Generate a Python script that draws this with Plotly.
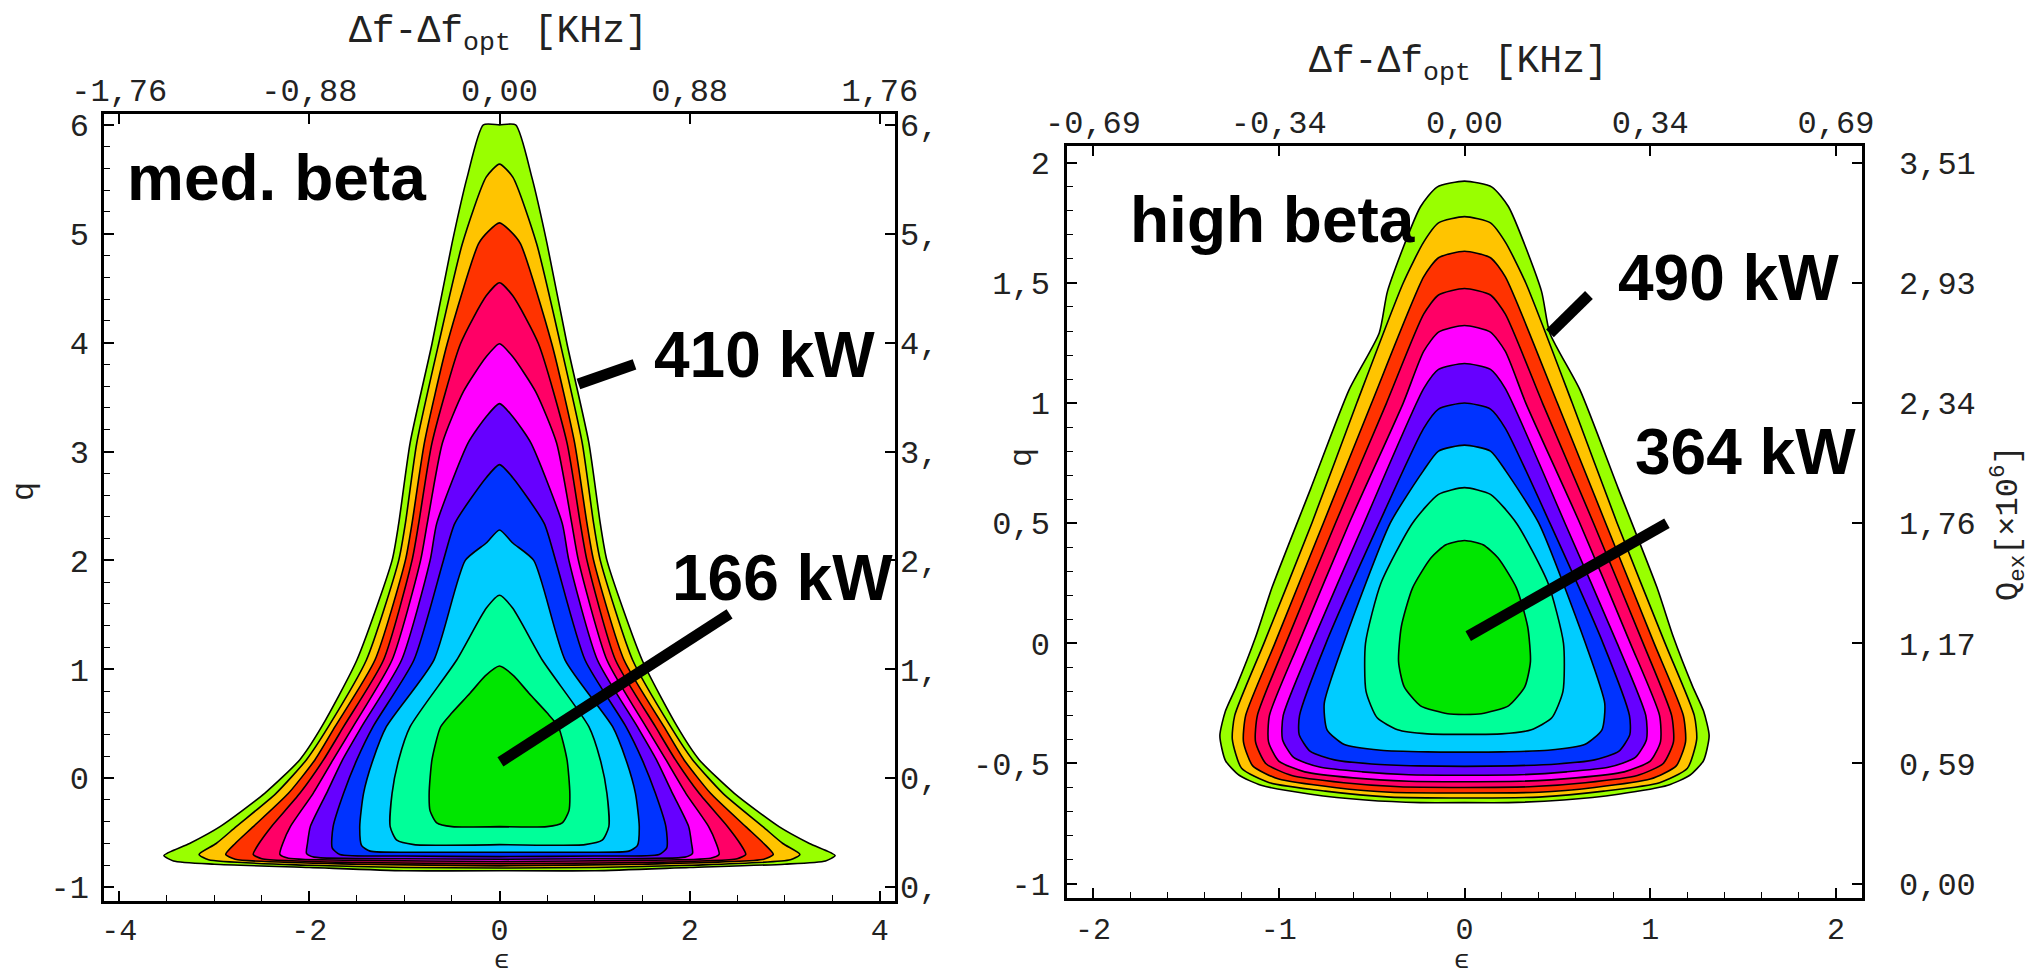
import plotly.graph_objects as go

W, H = 2040, 978

# ---------------- data ----------------
band_colors = ["#99ff00", "#ffc400", "#ff3300", "#ff0066", "#ff00ff",
               "#6600ff", "#0033ff", "#00ccff", "#00ff99", "#00e600"]

# medium beta: right half (eps >= 0) of each contour line, outer -> inner
med_eps = [
    [0, 0.17, 0.34, 0.50, 0.71, 0.94, 1.06, 1.13, 1.50, 1.87, 2.10, 2.47, 2.94, 3.26, 3.53, 3.43, 3.00, 2.00, 1.00, 0],
    [0, 0.14, 0.39, 0.64, 0.87, 0.99, 1.06, 1.40, 1.80, 2.03, 2.35, 2.77, 2.98, 3.16, 3.06, 2.00, 1.00, 0],
    [0, 0.12, 0.22, 0.55, 0.79, 0.92, 0.99, 1.31, 1.73, 1.94, 2.22, 2.59, 2.78, 2.88, 2.78, 1.50, 0],
    [0, 0.14, 0.41, 0.71, 0.85, 0.92, 1.22, 1.64, 1.85, 2.10, 2.40, 2.53, 2.59, 2.50, 1.50, 0],
    [0, 0.14, 0.38, 0.60, 0.76, 0.83, 1.13, 1.54, 1.75, 1.96, 2.20, 2.28, 2.31, 2.22, 1.50, 0],
    [0, 0.14, 0.33, 0.66, 0.73, 1.03, 1.45, 1.65, 1.82, 1.99, 2.02, 2.03, 1.95, 1.00, 0],
    [0, 0.14, 0.47, 0.59, 0.90, 1.33, 1.50, 1.64, 1.75, 1.76, 1.68, 1.00, 0],
    [0, 0.14, 0.36, 0.69, 1.19, 1.33, 1.43, 1.47, 1.45, 1.36, 0.80, 0],
    [0, 0.14, 0.45, 0.94, 1.06, 1.13, 1.15, 1.08, 0.90, 0],
    [0, 0.15, 0.31, 0.50, 0.62, 0.71, 0.74, 0.73, 0.66, 0.50, 0],
]
med_q = [
    [6.0, 6.0, 5.52, 4.91, 3.99, 3.08, 2.34, 2.00, 1.085, 0.473, 0.17, -0.139, -0.445, -0.60, -0.71, -0.76, -0.79, -0.82, -0.85, -0.85],
    [5.64, 5.52, 4.91, 3.99, 3.08, 2.34, 2.00, 1.085, 0.473, 0.17, -0.139, -0.445, -0.60, -0.70, -0.75, -0.80, -0.82, -0.825],
    [5.10, 5.02, 4.91, 3.99, 3.08, 2.34, 2.00, 1.085, 0.473, 0.17, -0.139, -0.445, -0.60, -0.70, -0.745, -0.79, -0.805],
    [4.55, 4.43, 3.99, 3.08, 2.34, 2.00, 1.085, 0.473, 0.17, -0.139, -0.445, -0.60, -0.70, -0.74, -0.775, -0.785],
    [3.99, 3.87, 3.55, 3.08, 2.34, 2.00, 1.085, 0.473, 0.17, -0.139, -0.445, -0.60, -0.70, -0.735, -0.755, -0.765],
    [3.44, 3.32, 3.08, 2.34, 2.00, 1.085, 0.473, 0.17, -0.139, -0.445, -0.60, -0.69, -0.725, -0.74, -0.745],
    [2.88, 2.76, 2.34, 2.00, 1.085, 0.473, 0.17, -0.139, -0.445, -0.64, -0.70, -0.715, -0.72],
    [2.28, 2.16, 2.00, 1.085, 0.473, 0.17, -0.139, -0.445, -0.62, -0.67, -0.68, -0.68],
    [1.68, 1.56, 1.085, 0.473, 0.17, -0.139, -0.445, -0.57, -0.61, -0.61],
    [1.03, 0.94, 0.78, 0.60, 0.47, 0.17, -0.14, -0.30, -0.41, -0.445, -0.445],
]

# high beta: right half of each contour line, outer -> inner
high_eps = [
    [0, 0.148, 0.237, 0.414, 0.459, 0.621, 0.828, 1.036, 1.124, 1.228, 1.287, 1.317, 1.287, 1.213, 1.095, 0.828, 0.533, 0.237, 0],
    [0, 0.14, 0.22, 0.33, 0.58, 0.822, 1.080, 1.237, 1.25, 1.20, 1.05, 0.75, 0.40, 0],
    [0, 0.14, 0.22, 0.50, 0.760, 1.021, 1.178, 1.19, 1.14, 1.00, 0.70, 0.40, 0],
    [0, 0.14, 0.22, 0.42, 0.695, 0.962, 1.115, 1.125, 1.07, 0.93, 0.65, 0.35, 0],
    [0, 0.14, 0.22, 0.33, 0.621, 0.893, 1.050, 1.055, 1.00, 0.86, 0.60, 0.30, 0],
    [0, 0.14, 0.22, 0.541, 0.822, 0.976, 0.98, 0.92, 0.78, 0.55, 0.30, 0],
    [0, 0.14, 0.22, 0.46, 0.746, 0.888, 0.89, 0.83, 0.70, 0.50, 0.25, 0],
    [0, 0.14, 0.22, 0.40, 0.651, 0.755, 0.74, 0.65, 0.45, 0.20, 0],
    [0, 0.14, 0.28, 0.45, 0.533, 0.53, 0.47, 0.36, 0.20, 0],
    [0, 0.10, 0.18, 0.28, 0.34, 0.355, 0.325, 0.237, 0.09, 0],
]
high_q = [
    [1.924, 1.899, 1.817, 1.467, 1.292, 1.056, 0.644, 0.233, 0.027, -0.179, -0.282, -0.385, -0.488, -0.549, -0.591, -0.628, -0.652, -0.663, -0.663],
    [1.776, 1.75, 1.67, 1.5, 1.0, 0.5, 0.0, -0.3, -0.40, -0.52, -0.58, -0.615, -0.64, -0.644],
    [1.632, 1.605, 1.525, 1.0, 0.5, 0.0, -0.3, -0.41, -0.51, -0.565, -0.60, -0.62, -0.623],
    [1.477, 1.45, 1.37, 1.0, 0.5, 0.0, -0.3, -0.41, -0.50, -0.55, -0.58, -0.597, -0.60],
    [1.323, 1.295, 1.215, 1.0, 0.5, 0.0, -0.3, -0.41, -0.49, -0.535, -0.56, -0.574, -0.576],
    [1.165, 1.14, 1.06, 0.5, 0.0, -0.3, -0.40, -0.475, -0.515, -0.535, -0.547, -0.549],
    [1.0, 0.975, 0.895, 0.5, 0.0, -0.3, -0.38, -0.45, -0.485, -0.502, -0.51, -0.512],
    [0.825, 0.80, 0.72, 0.5, 0.0, -0.25, -0.36, -0.42, -0.445, -0.452, -0.453],
    [0.648, 0.62, 0.50, 0.25, 0.0, -0.2, -0.31, -0.36, -0.377, -0.379],
    [0.428, 0.41, 0.356, 0.23, 0.07, -0.076, -0.18, -0.26, -0.293, -0.296],
]

# axes ticks / labels
med_xticks = [-4, -2, 0, 2, 4]
med_xtext = ["-4", "-2", "0", "2", "4"]
med_top_text = ["-1,76", "-0,88", "0,00", "0,88", "1,76"]
med_yticks = [-1, 0, 1, 2, 3, 4, 5, 6]
med_ytext = ["-1", "0", "1", "2", "3", "4", "5", "6"]
med_right_text = ["0,", "0,", "1,", "2,", "3,", "4,", "5,", "6,"]

high_xticks = [-2, -1, 0, 1, 2]
high_xtext = ["-2", "-1", "0", "1", "2"]
high_top_text = ["-0,69", "-0,34", "0,00", "0,34", "0,69"]
high_yticks = [-1, -0.5, 0, 0.5, 1, 1.5, 2]
high_ytext = ["-1", "-0,5", "0", "0,5", "1", "1,5", "2"]
high_right_text = ["0,00", "0,59", "1,17", "1,76", "2,34", "2,93", "3,51"]

# labels with pointer lines: (text, text x px, text y px, eps0, q0, eps1, q1)
med_labels = [("410 kW", 764, 355, 0.83, 3.62, 1.42, 3.80),
              ("166 kW", 782, 578, 0.01, 0.15, 2.42, 1.51)]
high_labels = [("490 kW", 1728, 278, 0.46, 1.29, 0.67, 1.45),
               ("364 kW", 1745, 452, 0.02, 0.03, 1.09, 0.50)]

# ---------------- figure ----------------
fig = go.Figure()


def add_bands(eps_list, q_list, xa, ya):
    for k, (e, q) in enumerate(zip(eps_list, q_list)):
        xs = list(e) + [-v for v in reversed(e)]
        ys = list(q) + list(reversed(q))
        fig.add_trace(go.Scatter(
            x=xs, y=ys, xaxis=xa, yaxis=ya, mode="lines",
            fill="toself", fillcolor=band_colors[k],
            line=dict(color="black", width=1.6, shape="spline", smoothing=0.6),
            hoverinfo="skip", showlegend=False))


add_bands(med_eps, med_q, "x", "y")
add_bands(high_eps, high_q, "x2", "y2")

MONO = "Liberation Mono, DejaVu Sans Mono, monospace"
tick_font = dict(family=MONO, size=32, color="#222")
xtick_font = dict(family=MONO, size=30, color="#222")


def px_x(p):
    return p / W


def px_y(p):
    return 1 - p / H


base_axis = dict(showgrid=False, zeroline=False, showline=True, linecolor="black",
                 linewidth=2.5, mirror=True, ticks="inside", ticklen=10, tickwidth=1.5,
                 tickcolor="black", tickfont=tick_font)
over_axis = dict(showgrid=False, zeroline=False, showline=False, ticks="inside", ticklen=10,
                 tickwidth=1.5, tickcolor="black", tickfont=tick_font, tickmode="array")

med_xrange = [-4.16, 4.16]
med_yrange = [-1.128, 6.10]
high_xrange = [-2.14, 2.14]
high_yrange = [-1.06, 2.07]

fig.update_layout(
    width=W, height=H, margin=dict(l=0, r=0, t=0, b=0, autoexpand=False),
    paper_bgcolor="white", plot_bgcolor="white", showlegend=False,
    xaxis=dict(base_axis, domain=[px_x(104), px_x(895)], range=med_xrange, anchor="y",
               tickmode="array", tickvals=med_xticks, ticktext=med_xtext, tickfont=xtick_font,
               minor=dict(dtick=0.5, ticks="inside", ticklen=6, tickcolor="black", tickwidth=1.2),
               ticklabelstandoff=0),
    yaxis=dict(base_axis, domain=[px_y(901), px_y(114)], range=med_yrange, anchor="x",
               tickmode="array", tickvals=med_yticks, ticktext=med_ytext,
               minor=dict(dtick=0.2, ticks="inside", ticklen=6, tickcolor="black", tickwidth=1.2),
               ticklabelstandoff=6),
    xaxis3=dict(over_axis, overlaying="x", side="top", anchor="y", range=med_xrange,
                tickvals=med_xticks, ticktext=med_top_text, ticklabelstandoff=6),
    yaxis3=dict(over_axis, overlaying="y", side="right", anchor="x", range=med_yrange,
                tickvals=med_yticks, ticktext=med_right_text, ticklabelstandoff=4),
    xaxis2=dict(base_axis, domain=[px_x(1067), px_x(1862)], range=high_xrange, anchor="y2",
                tickmode="array", tickvals=high_xticks, ticktext=high_xtext, tickfont=xtick_font,
                minor=dict(dtick=0.2, ticks="inside", ticklen=6, tickcolor="black", tickwidth=1.2),
                ticklabelstandoff=2),
    yaxis2=dict(base_axis, domain=[px_y(898), px_y(146)], range=high_yrange, anchor="x2",
                tickmode="array", tickvals=high_yticks, ticktext=high_ytext,
                minor=dict(dtick=0.1, ticks="inside", ticklen=6, tickcolor="black", tickwidth=1.2),
                ticklabelstandoff=8),
    xaxis4=dict(over_axis, overlaying="x2", side="top", anchor="y2", range=high_xrange,
                tickvals=high_xticks, ticktext=high_top_text, ticklabelstandoff=6),
    yaxis4=dict(over_axis, overlaying="y2", side="right", anchor="x2", range=high_yrange,
                tickvals=high_yticks, ticktext=high_right_text, ticklabelstandoff=36),
)

# invisible anchors so the overlay axes get drawn
fig.add_trace(go.Scatter(x=[None], y=[None], xaxis="x3", yaxis="y", showlegend=False, hoverinfo="skip"))
fig.add_trace(go.Scatter(x=[None], y=[None], xaxis="x", yaxis="y3", showlegend=False, hoverinfo="skip"))
fig.add_trace(go.Scatter(x=[None], y=[None], xaxis="x4", yaxis="y2", showlegend=False, hoverinfo="skip"))
fig.add_trace(go.Scatter(x=[None], y=[None], xaxis="x2", yaxis="y4", showlegend=False, hoverinfo="skip"))

ann = []
shapes = []
bold = dict(family="Liberation Sans, Arial, sans-serif", size=64, color="black")
mono = dict(family=MONO, size=32, color="#222")
mono_eps = dict(family=MONO, size=26, color="#222")
mono_title = dict(family=MONO, size=38, color="#222")

# panel names
ann.append(dict(text="<b>med. beta</b>", x=px_x(276), y=px_y(178), xref="paper", yref="paper",
                showarrow=False, font=bold, xanchor="center", yanchor="middle"))
ann.append(dict(text="<b>high beta</b>", x=px_x(1272), y=px_y(220), xref="paper", yref="paper",
                showarrow=False, font=bold, xanchor="center", yanchor="middle"))

for (t, tx, ty, e0, q0, e1, q1), xr, yr in [(l, "x", "y") for l in med_labels] + [(l, "x2", "y2") for l in high_labels]:
    ann.append(dict(text="<b>%s</b>" % t, x=px_x(tx), y=px_y(ty), xref="paper", yref="paper",
                    showarrow=False, font=bold, xanchor="center", yanchor="middle"))
    shapes.append(dict(type="line", xref=xr, yref=yr, x0=e0, y0=q0, x1=e1, y1=q1,
                       line=dict(color="black", width=11)))

# axis titles
for cx, cy in [(498, 34), (1458, 64)]:
    ann.append(dict(text="Δf-Δf<sub>opt</sub> [KHz]", x=px_x(cx), y=px_y(cy), xref="paper", yref="paper",
                    showarrow=False, font=mono_title, xanchor="center", yanchor="middle"))
for cx in [502, 1462]:
    ann.append(dict(text="ϵ", x=px_x(cx), y=0.001, xref="paper", yref="paper", borderpad=0,
                    showarrow=False, font=mono_eps, xanchor="center", yanchor="bottom"))
for cx, cy in [(24, 492), (1022, 458)]:
    ann.append(dict(text="q", x=px_x(cx), y=px_y(cy), xref="paper", yref="paper", textangle=-90,
                    showarrow=False, font=mono, xanchor="center", yanchor="middle"))
ann.append(dict(text="Q<sub>ex</sub>[×10<sup>6</sup>]", x=px_x(2008), y=px_y(523), xref="paper", yref="paper",
                textangle=-90, showarrow=False, font=mono, xanchor="center", yanchor="middle"))

fig.update_layout(annotations=ann, shapes=shapes)
fig.write_html("out.html")
